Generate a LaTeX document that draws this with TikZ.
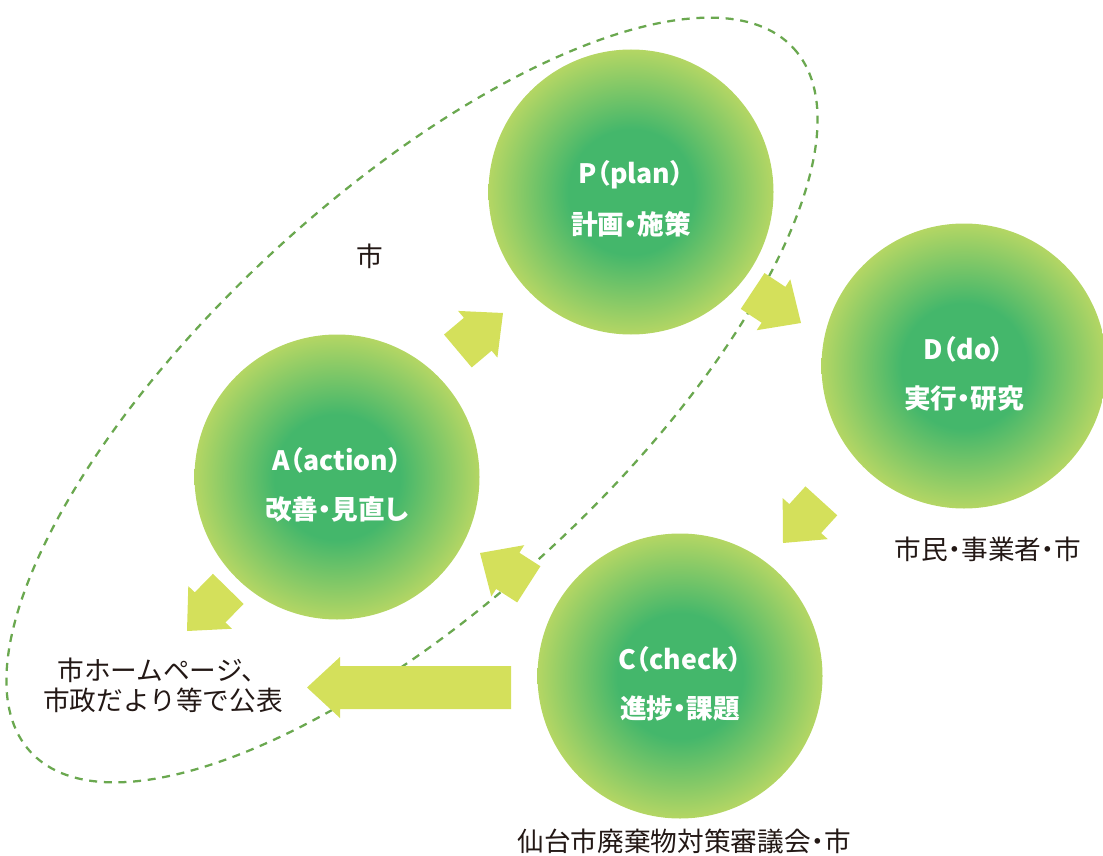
\documentclass[tikz,border=0pt]{standalone}
\usepackage{fontspec}
\setmainfont{Noto Sans CJK JP}
\newfontfamily\labfont{Noto Sans CJK JP}
\newfontfamily\circfont{Noto Sans CJK JP}[RawFeature=+palt]
\newcommand{\pdot}{{\addfontfeature{RawFeature=+palt}・}}
\usetikzlibrary{calc}
\definecolor{cgreen}{HTML}{44B76B}
\definecolor{cedge}{HTML}{B4D664}
\definecolor{carrow}{HTML}{D4E05B}
\definecolor{cdash}{HTML}{6AA84F}
\definecolor{ctext}{HTML}{231815}
\pgfdeclareradialshading{cball}{\pgfpoint{0bp}{0bp}}{color(0bp)=(cgreen); color(11bp)=(cgreen); color(25bp)=(cedge); color(50bp)=(cedge)}
\tikzset{
  ball/.style={circle, inner sep=0pt, minimum size=213.75pt, shading=cball},
  ctxt/.style={text=white, font=\circfont\bfseries\fontsize{20pt}{24pt}\selectfont, inner sep=0pt},
  lab/.style={text=ctext, font=\labfont\fontsize{20pt}{22.5pt}\selectfont, inner sep=0pt, align=center},
  encl/.style={draw=cdash, line width=1.7pt, dash pattern=on 6pt off 5pt},
  pics/barrow/.style={code={\fill[carrow] (0,0) -- (-33,30.5) -- (-33,21.5) -- (-#1,21.5) -- (-#1,-21.5) -- (-33,-21.5) -- (-33,-30.5) -- cycle;}}
}
\begin{document}
\begin{tikzpicture}[x=0.75pt, y=-0.75pt]
\useasboundingbox (0,0) rectangle (1103,856);
% dashed enclosure
\coordinate (ec) at (412,400);
\draw[encl, rotate around={42.7:(ec)}] (ec) ellipse [x radius=519, y radius=203];
% circles
\node[ball] (P) at (631,192) {};
\node[ball] (D) at (964,366) {};
\node[ball] (A) at (337,477) {};
\node[ball] (C) at (680,676) {};
% circle texts
\node[ctxt] (P1) at ($(P)+(0,-17)$) {P（plan）};
\node[ctxt] (P2) at ($(P)+(0,32)$) {計画・施策};
\node[ctxt] (D1) at ($(D)+(0,-17)$) {D（do）};
\node[ctxt] (D2) at ($(D)+(0,32)$) {実行・研究};
\node[ctxt] (A1) at ($(A)+(0,-17)$) {A（action）};
\node[ctxt] (A2) at ($(A)+(0,32)$) {改善・見直し};
\node[ctxt] (C1) at ($(C)+(0,-17)$) {C（check）};
\node[ctxt] (C2) at ($(C)+(0,32)$) {進捗・課題};
% block arrows
\pic[rotate=40.1] (arrAP) at (503,313) {barrow=59};
\pic[rotate=-33.5] (arrPD) at (801,323) {barrow=58};
\pic[rotate=-132.3] (arrDC) at (783,543) {barrow=57};
\pic[rotate=147.3] (arrCA) at (480,553) {barrow=58};
\pic[rotate=-134.4] (arrAL) at (187,631) {barrow=59};
\pic[rotate=180] (arrCL) at (307,687.5) {barrow=204};
% labels
\node[lab] (Lcity) at (370,256) {市};
\node[lab] (Ldo) at (988,549) {市民\pdot 事業者\pdot 市};
\node[lab] (Lcheck) at (684,841) {仙台市廃棄物対策審議会\pdot 市};
\node[lab] (Lpub) at (163,685) {市ホームページ、\\市政だより等で公表};
\end{tikzpicture}
\end{document}
